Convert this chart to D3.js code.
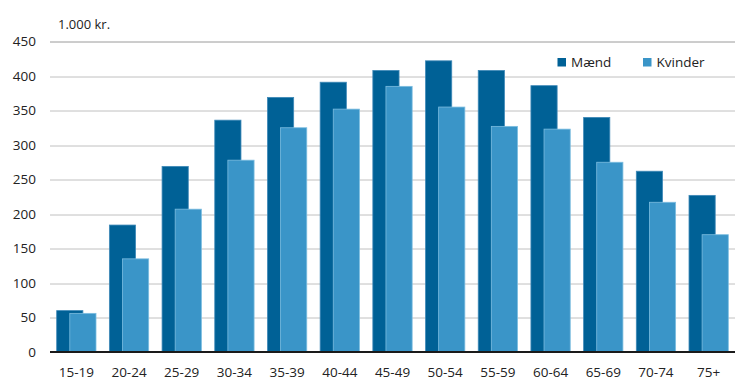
<!DOCTYPE html>
<html lang="da">
  <head>
    <meta charset="utf-8">
    <title>Indkomst efter alder og køn</title>
    <style>
      body {
        margin: 0;
        background: #fff;
        font-family: "Open Sans", sans-serif;
      }
      svg text {
        fill: #222;
      }
    </style>
  </head>
  <body>
    <svg id="chart" width="737" height="386"></svg>

    <script src="https://d3js.org/d3.v7.min.js"></script>
    <script>
      const ageGroups = ["15-19", "20-24", "25-29", "30-34", "35-39", "40-44", "45-49",
                         "50-54", "55-59", "60-64", "65-69", "70-74", "75+"];
      const maend   = [60, 184, 269, 336, 369, 391, 408, 422, 408, 386, 340, 262, 227];
      const kvinder = [56, 135, 207, 278, 325, 352, 385, 355, 327, 323, 275, 217, 170];
      const yTicks  = [0, 50, 100, 150, 200, 250, 300, 350, 400, 450];

      const svg = d3.select("#chart");
      const margin = {top: 41.5, right: 2, bottom: 34, left: 50},
            width = +svg.attr("width") - margin.left - margin.right,
            height = +svg.attr("height") - margin.top - margin.bottom;

      const g = svg.append("g").attr("transform", `translate(${margin.left},${margin.top})`);

      const x = d3.scaleBand().domain(ageGroups).range([0, width]).paddingInner(0.254).paddingOuter(0.127);
      const y = d3.scaleLinear().domain([0, 450]).range([height, 0]);
      const half = x.bandwidth() / 2;
      const barW = x.bandwidth() / 1.5;

      // gridlines
      g.selectAll(".grid").data(yTicks.filter(d => d > 0)).enter().append("line")
        .attr("x1", 0).attr("x2", width)
        .attr("y1", d => Math.round(y(d)) + 0.5).attr("y2", d => Math.round(y(d)) + 0.5)
        .attr("stroke", d => d === 450 ? "#9a9a9a" : "#c0c0c0")
        .attr("stroke-width", 1);

      // y labels
      g.selectAll(".ylab").data(yTicks).enter().append("text")
        .attr("x", -14).attr("y", d => y(d)).attr("dy", "0.36em")
        .attr("text-anchor", "end").style("font-size", "13.5px")
        .text(d => d);

      // Mænd bars (behind)
      g.selectAll(".m").data(ageGroups).enter().append("rect")
        .attr("x", d => x(d)).attr("width", barW)
        .attr("y", (d, i) => y(maend[i])).attr("height", (d, i) => y(0) - y(maend[i]))
        .attr("fill", "#006196").attr("stroke", "#3f89b8").attr("stroke-width", 0.8);

      // Kvinder bars (front)
      g.selectAll(".k").data(ageGroups).enter().append("rect")
        .attr("x", d => x(d) + x.bandwidth() - barW).attr("width", barW)
        .attr("y", (d, i) => y(kvinder[i])).attr("height", (d, i) => y(0) - y(kvinder[i]))
        .attr("fill", "#3a95c8").attr("stroke", "#7cbde0").attr("stroke-width", 0.8);

      // x axis line
      g.append("line").attr("x1", 0).attr("x2", width)
        .attr("y1", height).attr("y2", height)
        .attr("stroke", "#1a1a1a").attr("stroke-width", 2);

      // x labels
      g.selectAll(".xlab").data(ageGroups).enter().append("text")
        .attr("x", d => x(d) + x.bandwidth() / 2).attr("y", height + 25)
        .attr("text-anchor", "middle").style("font-size", "13.5px")
        .text(d => d);

      // unit label
      svg.append("text").attr("x", 58).attr("y", 29).style("font-size", "13px").text("1.000 kr.");

      // legend
      const legend = [["Mænd", "#006196", 557.5], ["Kvinder", "#3a95c8", 643]];
      legend.forEach(([name, col, lx]) => {
        svg.append("rect").attr("x", lx).attr("y", 58).attr("width", 8.5).attr("height", 8.5).attr("fill", col);
        svg.append("text").attr("x", lx + 13.5).attr("y", 62.5).attr("dy", "0.36em")
          .style("font-size", "13.5px").text(name);
      });
    </script>
  </body>
</html>
